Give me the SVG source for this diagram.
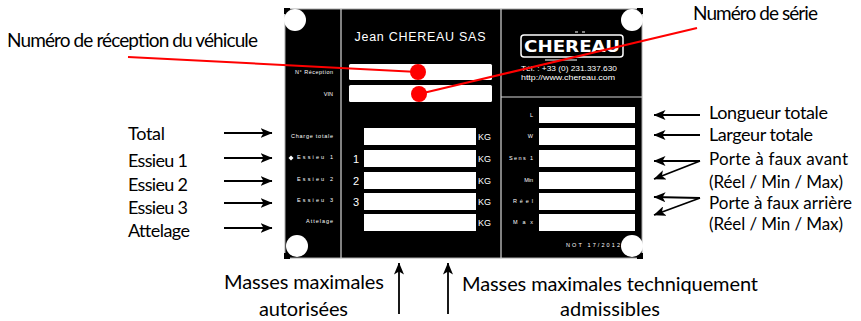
<svg xmlns="http://www.w3.org/2000/svg" width="861" height="321" viewBox="0 0 861 321">
<style>
.lbl{font-family:Lato,"Open Sans","Liberation Sans",sans-serif;fill:#000;}
.l18{font-size:18px;}
.l17{font-size:17px;}
.l20{font-size:20px;}
.tiny{font-family:"Liberation Sans",Arial,sans-serif;font-size:5.5px;fill:#fff;}
.field{fill:#fff;}
.div{stroke:#d8d8d8;stroke-width:1.2;fill:none;}
.arr{stroke:#000;stroke-width:1.8;fill:none;}
.red{stroke:#f00;stroke-width:2;fill:none;}
.hole{fill:#fff;}
.kg{font-family:"Liberation Sans",Arial,sans-serif;font-size:9px;fill:#fff;}
.num{font-family:"Liberation Sans",Arial,sans-serif;font-size:11px;fill:#fff;}
</style>
<defs>
<marker id="ah" viewBox="0 0 12 10" refX="11.5" refY="5" markerWidth="12" markerHeight="10" markerUnits="userSpaceOnUse" orient="auto">
<path d="M0,0 L12,5 L0,10 L3,5 Z" fill="#000"/>
</marker>
</defs>
<rect width="861" height="321" fill="#fff"/>

<g id="plate">
<rect x="285" y="9" width="357" height="249" fill="#000" stroke="#aaa" stroke-width="1"/>
<line class="div" x1="341" y1="9" x2="341" y2="258"/>
<line class="div" x1="501" y1="9" x2="501" y2="258"/>
<line class="div" x1="501" y1="97" x2="642" y2="97"/>
<circle class="hole" cx="295" cy="20" r="11"/>
<circle class="hole" cx="632" cy="20" r="11"/>
<circle class="hole" cx="297" cy="246" r="11"/>
<circle class="hole" cx="632" cy="246" r="11"/>
<path d="M285,14 V9 H290 M642,14 V9 H637 M285,253 V258 H290 M642,253 V258 H637" stroke="#000" stroke-width="2" fill="none"/>
<text x="420" y="41" text-anchor="middle" font-family="'Liberation Sans',Arial,sans-serif" font-size="12.5" fill="#fff" textLength="131">Jean CHEREAU SAS</text>
<rect class="field" x="349" y="64" width="143" height="16" rx="1.5"/>
<rect class="field" x="349" y="85" width="143" height="17" rx="1.5"/>
<text class="tiny" x="333" y="74" text-anchor="end" textLength="38">N° Réception</text>
<text class="tiny" x="333" y="96" text-anchor="end">VIN</text>
<rect x="521" y="35" width="102" height="22" rx="3" fill="none" stroke="#fff" stroke-width="1.5"/>
<text x="572" y="52" text-anchor="middle" font-family="'DejaVu Sans',sans-serif" font-weight="bold" font-size="15" fill="#fff" textLength="96" lengthAdjust="spacingAndGlyphs">CHEREAU</text>
<path d="M575,32 h3 M582,32 h3 M545,60 h32" stroke="#fff" stroke-width="1"/>
<text x="521" y="71" font-family="'Liberation Sans',Arial,sans-serif" font-size="7" fill="#fff" textLength="96" lengthAdjust="spacingAndGlyphs">Tél. : +33 (0) 231.337.630</text>
<text x="521" y="80" font-family="'Liberation Sans',Arial,sans-serif" font-size="7" fill="#fff" textLength="94" lengthAdjust="spacingAndGlyphs">http://www.chereau.com</text>
<path d="M291,155.5 L293.5,158 L291,160.5 L288.5,158 Z" fill="#fff"/>
<text class="tiny" x="333" y="138" text-anchor="end" textLength="42">Charge totale</text>
<text class="tiny" x="333" y="159" text-anchor="end" textLength="36">Essieu 1</text>
<text class="tiny" x="333" y="181" text-anchor="end" textLength="36">Essieu 2</text>
<text class="tiny" x="333" y="202" text-anchor="end" textLength="36">Essieu 3</text>
<text class="tiny" x="333" y="223" text-anchor="end" textLength="27">Attelage</text>
<rect class="field" x="364" y="128" width="112" height="17"/>
<rect class="field" x="364" y="150" width="112" height="17"/>
<rect class="field" x="364" y="172" width="112" height="17"/>
<rect class="field" x="364" y="193" width="112" height="17"/>
<rect class="field" x="364" y="214" width="112" height="17"/>
<text class="kg" x="478" y="140">KG</text>
<text class="kg" x="478" y="162">KG</text>
<text class="kg" x="478" y="184">KG</text>
<text class="kg" x="478" y="205">KG</text>
<text class="kg" x="478" y="226">KG</text>
<text class="num" x="353" y="163">1</text>
<text class="num" x="353" y="185">2</text>
<text class="num" x="353" y="206">3</text>
<rect class="field" x="539" y="107" width="96" height="16"/>
<rect class="field" x="539" y="128" width="96" height="17"/>
<rect class="field" x="539" y="150" width="96" height="17"/>
<rect class="field" x="539" y="172" width="96" height="17"/>
<rect class="field" x="539" y="193" width="96" height="17"/>
<rect class="field" x="539" y="214" width="96" height="17"/>
<text class="tiny" x="533" y="117" text-anchor="end">L</text>
<text class="tiny" x="533" y="138" text-anchor="end">W</text>
<text class="tiny" x="533" y="160" text-anchor="end" textLength="24">Sens 1</text>
<text class="tiny" x="533" y="182" text-anchor="end">Min</text>
<text class="tiny" x="533" y="203" text-anchor="end" textLength="20">Réel</text>
<text class="tiny" x="533" y="224" text-anchor="end" textLength="20">Max</text>
<text class="tiny" x="620" y="247" text-anchor="end" textLength="54">NOT 17/2012</text>
</g>

<g id="connectors">
<line class="red" x1="128" y1="57" x2="418" y2="72"/>
<line class="red" x1="419" y1="94" x2="697" y2="28"/>
<circle cx="418" cy="72" r="8" fill="#f00"/>
<circle cx="419" cy="94" r="8" fill="#f00"/>
<line class="arr" x1="224" y1="133" x2="272" y2="133" marker-end="url(#ah)"/>
<line class="arr" x1="224" y1="158" x2="272" y2="158" marker-end="url(#ah)"/>
<line class="arr" x1="224" y1="181" x2="272" y2="181" marker-end="url(#ah)"/>
<line class="arr" x1="224" y1="203" x2="272" y2="203" marker-end="url(#ah)"/>
<line class="arr" x1="224" y1="228" x2="272" y2="228" marker-end="url(#ah)"/>
<line class="arr" x1="700" y1="115" x2="654" y2="115" marker-end="url(#ah)"/>
<line class="arr" x1="700" y1="135" x2="654" y2="135" marker-end="url(#ah)"/>
<line class="arr" x1="700" y1="161" x2="654" y2="161" marker-end="url(#ah)"/>
<line class="arr" x1="700" y1="161" x2="654" y2="179" marker-end="url(#ah)"/>
<line class="arr" x1="700" y1="198" x2="654" y2="197" marker-end="url(#ah)"/>
<line class="arr" x1="700" y1="198" x2="654" y2="215" marker-end="url(#ah)"/>
<line class="arr" x1="399" y1="314" x2="399" y2="263" marker-end="url(#ah)"/>
<line class="arr" x1="448" y1="314" x2="448" y2="263" marker-end="url(#ah)"/>
</g>

<g id="labels">
<text class="lbl" x="7" y="47" textLength="251" font-size="19">Numéro de réception du véhicule</text>
<text class="lbl" x="693" y="20" textLength="125" font-size="19">Numéro de série</text>
<text class="lbl l18" x="128" y="140" textLength="37">Total</text>
<text class="lbl l18" x="128" y="167" textLength="60">Essieu 1</text>
<text class="lbl l18" x="128" y="191" textLength="60">Essieu 2</text>
<text class="lbl l18" x="128" y="214" textLength="60">Essieu 3</text>
<text class="lbl l18" x="128" y="237" textLength="62">Attelage</text>
<text class="lbl l18" x="709" y="119" textLength="119">Longueur totale</text>
<text class="lbl l18" x="709" y="141" textLength="104">Largeur totale</text>
<text class="lbl l17" x="709" y="165" textLength="139">Porte à faux avant</text>
<text class="lbl l17" x="709" y="188" textLength="134">(Réel / Min / Max)</text>
<text class="lbl l17" x="709" y="209" textLength="143">Porte à faux arrière</text>
<text class="lbl l17" x="709" y="230" textLength="134">(Réel / Min / Max)</text>
<text class="lbl l20" x="224" y="289" textLength="160">Masses maximales</text>
<text class="lbl l20" x="259" y="316" textLength="89">autorisées</text>
<text class="lbl l20" x="462" y="291" textLength="296">Masses maximales techniquement</text>
<text class="lbl l20" x="560" y="316" textLength="100">admissibles</text>
</g>
</svg>
